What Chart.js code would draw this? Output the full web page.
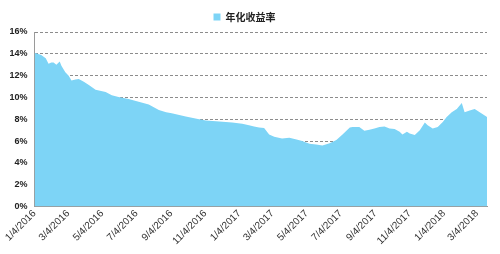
<!DOCTYPE html>
<html>
<head>
<meta charset="utf-8">
<script src="https://cdn.jsdelivr.net/npm/chart.js@4.4.0/dist/chart.umd.min.js"></script>
<style>
  html, body { margin: 0; padding: 0; background: #fff; }
  #wrap { width: 500px; height: 254px; }
</style>
</head>
<body>
<div id="wrap"><canvas id="chart"></canvas></div>
<script>
// sample dates (yyyy-mm-dd) and annualised yield in %
const dates = [
  '2016-01-04', '2016-01-16', '2016-01-24', '2016-01-29', '2016-02-03', '2016-02-07',
  '2016-02-12', '2016-02-18', '2016-02-21', '2016-02-28', '2016-03-05', '2016-03-10',
  '2016-03-17', '2016-03-23', '2016-04-01', '2016-04-10', '2016-04-22', '2016-05-10',
  '2016-05-21', '2016-06-02', '2016-06-20', '2016-07-08', '2016-07-26', '2016-08-13',
  '2016-08-26', '2016-09-05', '2016-09-30', '2016-10-24', '2016-11-05', '2016-11-29',
  '2016-12-22', '2017-01-09', '2017-01-21', '2017-01-30', '2017-02-08', '2017-02-17',
  '2017-02-26', '2017-03-07', '2017-03-21', '2017-04-03', '2017-04-16', '2017-04-26',
  '2017-05-09', '2017-05-21', '2017-06-01', '2017-06-14', '2017-06-26', '2017-07-07',
  '2017-07-20', '2017-07-25', '2017-08-01', '2017-08-06', '2017-08-15', '2017-08-24',
  '2017-09-02', '2017-09-11', '2017-09-20', '2017-09-29', '2017-10-08', '2017-10-17',
  '2017-10-22', '2017-10-30', '2017-11-04', '2017-11-13', '2017-11-22', '2017-12-01',
  '2017-12-06', '2017-12-15', '2017-12-24', '2018-01-02', '2018-01-09', '2018-01-18',
  '2018-01-27', '2018-02-02', '2018-02-05', '2018-02-10', '2018-02-19', '2018-02-28',
  '2018-03-09', '2018-03-18', '2018-03-22'
];
const yieldPct = [
  14.1, 13.9, 13.6, 13.1, 13.2, 13.2,
  13.0, 13.3, 12.9, 12.3, 12.0, 11.55,
  11.65, 11.7, 11.45, 11.15, 10.7, 10.5,
  10.2, 10.05, 9.85, 9.6, 9.35, 8.85,
  8.65, 8.55, 8.25, 8.0, 7.9, 7.8,
  7.7, 7.6, 7.45, 7.35, 7.25, 7.2,
  6.6, 6.4, 6.25, 6.3, 6.15, 6.0,
  5.75, 5.7, 5.6, 5.8, 6.1, 6.6,
  7.25, 7.3, 7.3, 7.3, 6.95, 7.05,
  7.15, 7.3, 7.35, 7.15, 7.1, 6.85,
  6.6, 6.85, 6.7, 6.55, 7.0, 7.7,
  7.45, 7.15, 7.3, 7.75, 8.2, 8.65,
  8.95, 9.3, 9.5, 8.65, 8.8, 8.95,
  8.65, 8.35, 8.2
];
const xTickLabels = [
  '1/4/2016', '3/4/2016', '5/4/2016', '7/4/2016', '9/4/2016', '11/4/2016',
  '1/4/2017', '3/4/2017', '5/4/2017', '7/4/2017', '9/4/2017', '11/4/2017',
  '1/4/2018', '3/4/2018'
];
const seriesName = '年化收益率';

// day offsets from the first date, so the x axis is linear in time
const DAY = 86400000;
const t0 = Date.UTC(2016, 0, 4);
const dayOf = (y, m, d) => Math.round((Date.UTC(y, m - 1, d) - t0) / DAY);
const points = dates.map((s, i) => {
  const [y, m, d] = s.split('-').map(Number);
  return { x: dayOf(y, m, d), y: yieldPct[i] };
});
const tickDays = xTickLabels.map(s => {
  const [m, d, y] = s.split('/').map(Number);
  return dayOf(y, m, d);
});
const labelByDay = {};
tickDays.forEach((v, i) => labelByDay[v] = xTickLabels[i]);

const fillColor = '#7dd4f6';
const axisColor = '#9a9a9a';

new Chart(document.getElementById('chart'), {
  type: 'line',
  data: {
    datasets: [{
      label: seriesName,
      data: points,
      fill: 'origin',
      backgroundColor: fillColor,
      borderColor: fillColor,
      borderWidth: 0,
      pointRadius: 0,
      tension: 0
    }]
  },
  options: {
    responsive: true,
    maintainAspectRatio: false,
    animation: false,
    layout: { padding: { left: 2, right: 13, top: 5, bottom: 0 } },
    plugins: {
      legend: {
        display: true,
        position: 'top',
        labels: {
          boxWidth: 7,
          boxHeight: 7,
          padding: 7,
          color: '#222',
          font: { family: '"Noto Sans CJK SC"', size: 10, weight: 'bold' }
        }
      },
      tooltip: { enabled: false }
    },
    scales: {
      x: {
        type: 'linear',
        min: 0,
        max: points[points.length - 1].x,
        afterBuildTicks: axis => {
          axis.ticks = tickDays.map(v => ({ value: v }));
        },
        ticks: {
          autoSkip: false,
          minRotation: 45,
          maxRotation: 45,
          padding: 7,
          color: '#333',
          font: { family: '"Liberation Sans"', size: 10 },
          callback: v => labelByDay[v]
        },
        // short tick marks pointing up into the plot
        grid: {
          drawOnChartArea: false,
          drawTicks: true,
          tickLength: -6,
          color: '#8aa8b8'
        },
        border: { display: true, color: axisColor, width: 1 }
      },
      y: {
        min: 0,
        max: 16,
        ticks: {
          stepSize: 2,
          padding: 7,
          color: '#222',
          font: { family: '"Liberation Sans"', size: 9, weight: 'bold' },
          callback: v => v + '%'
        },
        grid: {
          drawTicks: false,
          color: '#8c8c8c',
          lineWidth: 1
        },
        border: { display: true, color: axisColor, width: 1, dash: [3, 2] }
      }
    }
  }
});
</script>
</body>
</html>
